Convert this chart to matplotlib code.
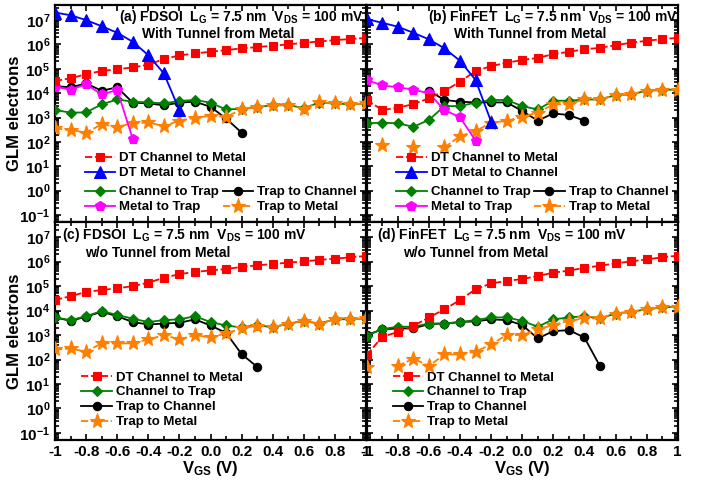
import numpy as np
import matplotlib
matplotlib.use("Agg")
import matplotlib.pyplot as plt
from matplotlib.ticker import MultipleLocator, LogLocator, FixedLocator, FuncFormatter, NullFormatter

plt.rcParams['font.family'] = 'Liberation Sans'
plt.rcParams['font.weight'] = 'bold'
plt.rcParams['mathtext.fontset'] = 'custom'
plt.rcParams['mathtext.rm'] = 'Liberation Sans:bold'
plt.rcParams['mathtext.it'] = 'Liberation Sans:bold'
plt.rcParams['mathtext.bf'] = 'Liberation Sans:bold'

vgs = np.round(np.arange(-1.0, 1.01, 0.1), 1)
nan = np.nan

# valores em log10
# (a) FDSOI com tunel do metal
a_dt_cm = [4.50, 4.61, 4.78, 4.91, 4.98, 5.06, 5.17, 5.40, 5.55, 5.63, 5.70,
           5.77, 5.84, 5.89, 5.95, 6.00, 6.07, 6.12, 6.18, 6.22, 6.27]
a_dt_mc = [7.31, 7.20, 7.00, 6.75, 6.48, 6.11, 5.56, 4.81, 3.31]
a_ch_trap = [3.31, 3.20, 3.21, 3.54, 3.74, 3.65, 3.62, 3.58, 3.68, 3.72, 3.61,
             3.33, 3.36, 3.44, 3.50, 3.51, 3.39, 3.61, 3.58, 3.54, 3.58]
a_trap_ch = [4.29, 4.24, 4.40, 4.10, 4.24, 3.61, 3.58, 3.50, 3.61, 3.65, 3.44, 2.96, 2.38]
a_met_trap = [4.26, 4.15, 4.36, 3.95, 4.13, 2.12]
a_trap_met = [2.55, 2.49, 2.38, 2.72, 2.62, 2.76, 2.80, 2.65, 2.87, 2.99, 3.07,
              3.03, 3.33, 3.42, 3.50, 3.50, 3.37, 3.62, 3.58, 3.54, 3.58]

# (b) FinFET com tunel do metal
b_dt_cm = [3.72, 3.31, 3.40, 3.55, 3.79, 4.09, 4.47, 4.91, 5.11, 5.25, 5.36,
           5.45, 5.60, 5.70, 5.80, 5.86, 5.97, 6.07, 6.15, 6.22, 6.27]
b_dt_mc = [7.04, 6.89, 6.73, 6.48, 6.21, 5.84, 5.33, 4.54, 2.83]
b_ch_trap = [2.76, 2.79, 2.76, 2.62, 2.90, 3.47, 3.47, 3.61, 3.72, 3.72, 3.47,
             3.33, 3.69, 3.69, 3.74, 3.74, 3.92, 3.95, 4.10, 4.13, 4.15]
b_trap_ch = [nan, nan, nan, nan, 4.10, 3.72, 3.65, 3.62, 3.62, 3.62, 3.27,
             2.87, 3.17, 3.10, 2.87]
b_met_trap = [4.54, 4.32, 4.24, 4.15, 3.99, 3.31, 3.01, 2.05]
b_trap_met = [nan, 1.87, nan, 1.80, nan, 1.77, 2.24, 2.44, 2.79, 2.86, 3.03,
              3.20, 3.54, 3.55, 3.74, 3.74, 3.92, 3.95, 4.10, 4.13, 4.15]

# (c) FDSOI sem tunel do metal
c_dt_cm = [4.43, 4.59, 4.76, 4.84, 4.91, 5.00, 5.14, 5.34, 5.49, 5.58, 5.64,
           5.70, 5.78, 5.85, 5.90, 5.96, 6.01, 6.07, 6.12, 6.18, 6.23]
c_ch_trap = [3.72, 3.61, 3.77, 3.98, 3.82, 3.67, 3.53, 3.61, 3.64, 3.77, 3.53,
             3.39, 3.31, 3.41, 3.31, 3.47, 3.57, 3.47, 3.64, 3.65, 3.68]
c_trap_ch = [3.72, 3.58, 3.75, 3.95, 3.77, 3.53, 3.43, 3.47, 3.50, 3.64, 3.39,
             3.09, 2.22, 1.70]
c_trap_met = [2.41, 2.45, 2.32, 2.66, 2.66, 2.66, 2.82, 3.00, 2.82, 3.00, 2.90,
              3.07, 3.27, 3.38, 3.31, 3.47, 3.57, 3.47, 3.64, 3.65, 3.68]

# (d) FinFET sem tunel do metal
d_dt_cm = [2.18, 2.93, 3.12, 3.37, 3.72, 4.05, 4.43, 4.87, 5.11, 5.21, 5.29,
           5.41, 5.55, 5.63, 5.75, 5.83, 5.93, 6.01, 6.09, 6.18, 6.24]
d_ch_trap = [2.98, 3.24, 3.34, 3.34, 3.47, 3.47, 3.53, 3.61, 3.72, 3.72, 3.58,
             3.34, 3.64, 3.72, 3.77, 3.68, 3.88, 3.95, 4.05, 4.13, 4.16]
d_trap_ch = [3.00, 3.23, 3.27, 3.27, 3.45, 3.47, 3.53, 3.56, 3.64, 3.61, 3.41,
             2.86, 3.16, 3.20, 2.90, 1.73]
d_trap_met = [1.70, nan, 1.73, 2.04, 1.73, 2.21, 2.21, 2.32, 2.62, 3.00, 3.00,
              3.23, 3.41, 3.58, 3.68, 3.68, 3.88, 3.95, 4.05, 4.13, 4.16]

estilos = {
    "DT Channel to Metal": dict(color="#FF0000", marker="s", ms=6, ls=(0, (4, 1.5)), zorder=5),
    "DT Metal to Channel": dict(color="#0000FF", marker="^", ms=8, ls="-", zorder=6),
    "Channel to Trap": dict(color="#008000", marker="D", ms=5.5, ls="-", zorder=3),
    "Trap to Channel": dict(color="#000000", marker="o", ms=6, ls="-", zorder=2),
    "Metal to Trap": dict(color="#FF00FF", marker="p", ms=7.5, ls="-", zorder=4),
    "Trap to Metal": dict(color="#FF8000", marker="*", ms=11, ls=(0, (4, 1.5)), zorder=3.5),
}


def desenha(ax, nome, valores):
    v = np.array(valores, dtype=float)
    x = vgs[:len(v)]
    st = estilos[nome]
    ln, = ax.plot(x, 10 ** v, color=st["color"], marker=st["marker"], markersize=st["ms"],
                  linestyle=st["ls"], linewidth=1.3, markeredgewidth=0.8,
                  markeredgecolor=st["color"], label=nome, zorder=st["zorder"])
    return ln


def fmt_x(v, pos):
    if abs(abs(v) - 1) < 1e-6:
        return "%d" % round(v)
    return "%.1f" % v


def fmt_y(v, pos):
    e = int(round(np.log10(v)))
    return r"$10^{%d}$" % e


def prepara(ax, esquerda, baixo):
    ax.set_xlim(-1, 1)
    ax.set_yscale("log")
    ax.set_ylim(10 ** -1.29, 10 ** 7.62)
    ax.xaxis.set_major_locator(MultipleLocator(0.2))
    ax.xaxis.set_minor_locator(MultipleLocator(0.1))
    ax.xaxis.set_major_formatter(FuncFormatter(fmt_x))
    ax.yaxis.set_major_locator(FixedLocator([10.0 ** k for k in range(-1, 8)]))
    ax.yaxis.set_minor_locator(LogLocator(base=10, subs=np.arange(2, 10), numticks=20))
    ax.yaxis.set_major_formatter(FuncFormatter(fmt_y))
    ax.yaxis.set_minor_formatter(NullFormatter())
    ax.tick_params(which="both", direction="in", top=True, right=True, width=1.2,
                   labelsize=11, labelleft=esquerda, labelbottom=baixo, pad=3.5)
    ax.tick_params(which="major", length=4)
    ax.tick_params(which="minor", length=3)
    for s in ax.spines.values():
        s.set_linewidth(1.6)
    if esquerda:
        ax.set_ylabel("GLM electrons", fontsize=12, fontweight="bold")
        ax.yaxis.set_label_coords(-0.107, 0.5)
    if baixo:
        ax.set_xlabel(r"V$_{GS}$ (V)", fontsize=12, fontweight="bold", labelpad=0)


def titulo(ax, linha1, linha2, x1, x2, y1, y2):
    ax.text(x1, y1, linha1, transform=ax.transAxes, ha="center", va="center", fontsize=10,
            fontweight="bold")
    ax.text(x2, y2, linha2, transform=ax.transAxes, ha="center", va="center", fontsize=10,
            fontweight="bold")


leg_kw = dict(frameon=False, fontsize=9.5, handlelength=2.3, handletextpad=0.3,
              labelspacing=0.2, borderpad=0, borderaxespad=0, numpoints=1)

fig = plt.figure(figsize=(7.03, 4.83), dpi=100)
W, H = 703.0, 483.0
axa = fig.add_axes([55 / W, 1 - 222 / H, 311 / W, 217 / H])
axb = fig.add_axes([366.7 / W, 1 - 222 / H, 311 / W, 217 / H])
axc = fig.add_axes([55 / W, 1 - 440 / H, 311 / W, 218 / H])
axd = fig.add_axes([366.7 / W, 1 - 440 / H, 311 / W, 218 / H])

# paineis superiores
for ax, dados, letra in [(axa, [a_dt_cm, a_dt_mc, a_ch_trap, a_trap_ch, a_met_trap, a_trap_met], "(a) FDSOI"),
                         (axb, [b_dt_cm, b_dt_mc, b_ch_trap, b_trap_ch, b_met_trap, b_trap_met], "(b) FinFET")]:
    nomes = ["DT Channel to Metal", "DT Metal to Channel", "Channel to Trap",
             "Trap to Channel", "Metal to Trap", "Trap to Metal"]
    h = {}
    for nome, v in zip(nomes, dados):
        h[nome] = desenha(ax, nome, v)
    prepara(ax, ax is axa, False)
    titulo(ax, letra + r"  L$_G$ = 7.5 nm  V$_{DS}$ = 100 mV", "With Tunnel from Metal",
           0.60, 0.525, 0.945, 0.866)
    leg1 = ax.legend([h["DT Channel to Metal"], h["DT Metal to Channel"]],
                     ["DT Channel to Metal", "DT Metal to Channel"],
                     loc="upper left", bbox_to_anchor=(0.095, 0.322), **leg_kw)
    ax.add_artist(leg1)
    ax.legend([h["Channel to Trap"], h["Metal to Trap"], h["Trap to Channel"], h["Trap to Metal"]],
              ["Channel to Trap", "Metal to Trap", "Trap to Channel", "Trap to Metal"],
              loc="upper left", bbox_to_anchor=(0.095, 0.165), ncol=2, columnspacing=0.3, **leg_kw)

# paineis inferiores
for ax, dados, letra, xt in [(axc, [c_dt_cm, c_ch_trap, c_trap_ch, c_trap_met], "(c) FDSOI", (0.415, 0.33)),
                             (axd, [d_dt_cm, d_ch_trap, d_trap_ch, d_trap_met], "(d) FinFET", (0.435, 0.352))]:
    nomes = ["DT Channel to Metal", "Channel to Trap", "Trap to Channel", "Trap to Metal"]
    for nome, v in zip(nomes, dados):
        desenha(ax, nome, v)
    prepara(ax, ax is axc, True)
    titulo(ax, letra + r"  L$_G$ = 7.5 nm  V$_{DS}$ = 100 mV", "w/o Tunnel from Metal",
           xt[0], xt[1], 0.94, 0.858)
    ax.legend(loc="upper left", bbox_to_anchor=(0.085, 0.315), **leg_kw)

fig.savefig("out.png", dpi=100)
